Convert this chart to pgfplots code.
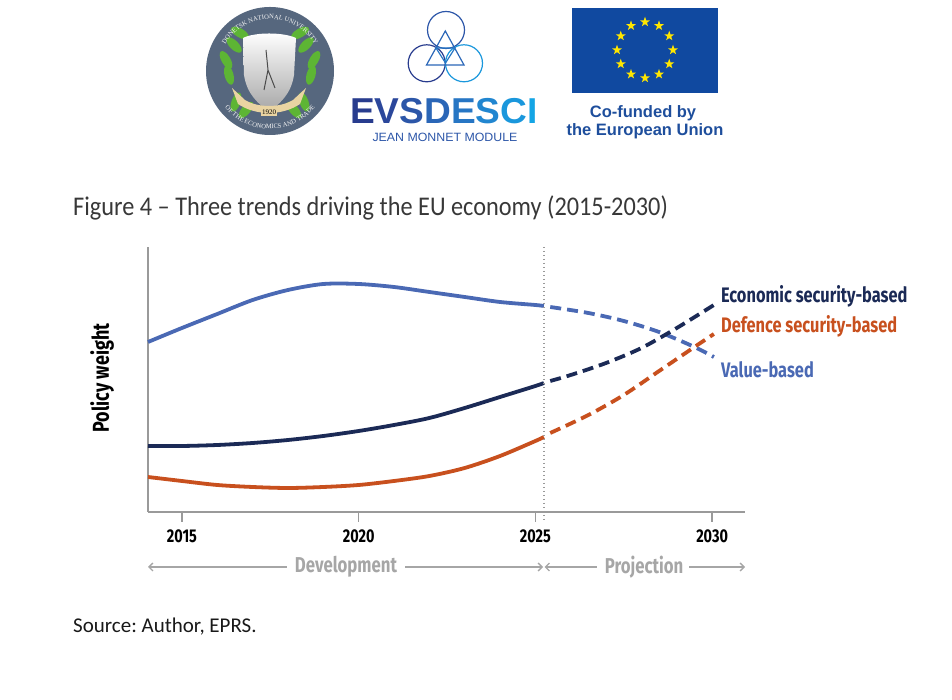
\documentclass[border=0pt]{standalone}
\usepackage{fontspec}
\usepackage{pgfplots}
\pgfplotsset{compat=1.18}
\usetikzlibrary{arrows.meta,shapes.geometric,decorations.text}
\newfontfamily\condb[FakeStretch=0.78]{Fira Sans}
\newfontfamily\titlefont[FakeStretch=0.9]{Carlito}
\newfontfamily\srcfont{Carlito}
\newfontfamily\arialf{Liberation Sans}
\newfontfamily\seriff{Liberation Serif}
\newfontfamily\evsfont[FakeStretch=1.03]{Liberation Sans}
\definecolor{cblue}{HTML}{4A69B4}
\definecolor{cnavy}{HTML}{1B2A56}
\definecolor{corange}{HTML}{C8501E}
\definecolor{cgray}{HTML}{9A9A9A}
\definecolor{lgray}{HTML}{A6A6A6}
\definecolor{eublue}{HTML}{1049A0}
\definecolor{euyellow}{HTML}{FFE600}
\definecolor{cotext}{HTML}{1E4E9C}
\definecolor{logogray}{HTML}{56677E}
\definecolor{leafgreen}{HTML}{5DB534}
\definecolor{ribbon}{HTML}{E9D4A2}
\definecolor{eA}{HTML}{283C8E}
\definecolor{eB}{HTML}{2B479B}
\definecolor{eC}{HTML}{2C56A8}
\definecolor{eD}{HTML}{2A66B7}
\definecolor{eE}{HTML}{2776C4}
\definecolor{eF}{HTML}{2186D0}
\definecolor{eG}{HTML}{1A97DC}
\definecolor{eH}{HTML}{14A5E5}
\begin{document}
\frenchspacing
\begin{tikzpicture}
\path[use as bounding box] (0,0) rectangle (952pt,700pt);
% ---------- logos ----------
% left university seal
\fill[logogray] (270pt,629pt) circle (64pt);
\foreach \xx/\yy/\rr in {226/640/30, 229/625/15, 234/655/45, 240/667/60, 236/598/-20, 246/590/-40}{
  \fill[leafgreen] (\xx pt,\yy pt) ellipse [x radius=4.5pt, y radius=10pt, rotate=\rr];}
\foreach \xx/\yy/\rr in {314/640/-30, 311/625/-15, 306/655/-45, 300/667/-60, 304/598/20, 294/590/40}{
  \fill[leafgreen] (\xx pt,\yy pt) ellipse [x radius=4.5pt, y radius=10pt, rotate=\rr];}
\shade[top color=white, bottom color=gray!70] (243pt,662pt) .. controls (255pt,668pt) and (283pt,668pt) .. (296pt,662pt) -- (294pt,625pt) .. controls (291pt,605pt) and (279pt,596pt) .. (269pt,588pt) .. controls (259pt,596pt) and (247pt,605pt) .. (244pt,625pt) -- cycle;
\draw[gray!60!black, line width=1pt] (266pt,650pt) -- (268pt,630pt) -- (264pt,610pt) (268pt,630pt) -- (275pt,612pt);
\fill[ribbon] (232pt,612pt) -- (245pt,600pt) .. controls (258pt,592pt) and (280pt,592pt) .. (293pt,600pt) -- (306pt,612pt) -- (300pt,596pt) .. controls (282pt,584pt) and (256pt,584pt) .. (238pt,596pt) -- cycle;
\node[fill=ribbon, inner sep=1.2pt, font=\seriff\fontsize{7}{8}\selectfont] at (269pt,588pt) {1920};
\path[decorate, decoration={text along path, text align=center, text color=white!92!gray,
  text={|\seriff\fontsize{6.6}{7}\selectfont|DONETSK NATIONAL UNIVERSITY}}]
  ([shift={(150:52pt)}]270pt,629pt) arc[start angle=150, end angle=30, radius=52pt];
\path[decorate, decoration={text along path, text align=center, text color=white!92!gray,
  text={|\seriff\fontsize{6.6}{7}\selectfont|OF THE ECONOMICS AND TRADE}}]
  ([shift={(208:58pt)}]270pt,629pt) arc[start angle=208, end angle=332, radius=58pt];
% EVSDESCI rings
\draw[eC, line width=1.2pt] (446pt,670pt) circle (18.5pt);
\draw[eA, line width=1.2pt] (426.7pt,636.7pt) circle (18.5pt);
\draw[eG, line width=1.2pt] (464pt,636.7pt) circle (18.5pt);
\draw[eD, line width=1.2pt] (445.3pt,669pt) -- (426.5pt,635pt) -- (464pt,635pt) -- cycle;
\draw[eE, line width=1.2pt] (436pt,652pt) -- (455pt,652pt) -- (445.5pt,637pt) -- cycle;
\node[anchor=base west, inner sep=0pt] at (350pt,576pt) {\evsfont\bfseries\fontsize{36}{40}\selectfont
  \textcolor{eA}{E}\textcolor{eB}{V}\textcolor{eC}{S}\textcolor{eD}{D}\textcolor{eE}{E}\textcolor{eF}{S}\textcolor{eG}{C}\textcolor{eH}{I}};
\node[inner sep=0pt, text=eC] at (445pt,562.5pt) {\evsfont\fontsize{12}{14}\selectfont JEAN MONNET MODULE};
% EU flag
\fill[eublue] (572pt,607pt) rectangle (718pt,692pt);
\foreach \a in {0,30,...,330}{
  \node[star, star points=5, star point ratio=2.5, fill=euyellow, inner sep=0pt, minimum size=10.5pt] at ([shift={(\a:28pt)}]645pt,650pt) {};}
\node[text=cotext, inner sep=0pt] at (643pt,587pt) {\arialf\bfseries\fontsize{16.5}{18}\selectfont Co-funded by};
\node[text=cotext, inner sep=0pt] at (645pt,569pt) {\arialf\bfseries\fontsize{16.5}{18}\selectfont the European Union};
% ---------- title ----------
\node[anchor=base west, inner sep=0pt, text=black!78] at (73pt,484pt) {\titlefont\fontsize{27}{30}\selectfont Figure 4 – Three trends driving the EU economy (2015-2030)};
% ---------- chart ----------
\begin{axis}[at={(148pt,188pt)}, anchor=south west, scale only axis,
  width=597pt, height=265pt,
  xmin=2014.04, xmax=2030.93, ymin=0, ymax=265,
  axis x line=bottom, axis y line=left,
  axis line style={-, cgray, line width=1.4pt},
  xtick={2015,2020,2025,2030}, xticklabels={2015,2020,2025,2030},
  ytick=\empty, tick align=outside, major tick length=10pt,
  tick style={cgray, line width=1.4pt},
  xticklabel style={font=\condb\bfseries\fontsize{18.5}{19}\selectfont, text=black, inner sep=0pt, anchor=north, yshift=-8pt},
  ylabel={Policy weight},
  ylabel style={at={(axis description cs:-0.077,0.506)}, anchor=center, font=\condb\bfseries\fontsize{23}{25}\selectfont, text=black},
  clip=false]
% solid (development)
\addplot[cblue, line width=3.8pt, smooth] coordinates {
 (2014.04,170) (2015,184) (2016,198) (2017,212) (2018,222) (2019,228) (2020,228)
 (2021,225) (2022,220) (2023,215) (2024,210) (2025,207) (2025.24,206)};
\addplot[cnavy, line width=3.8pt, smooth] coordinates {
 (2014.04,66) (2015,66) (2016,67) (2017,69) (2018,72) (2019,76) (2020,81)
 (2021,87) (2022,94) (2023,104) (2024,115) (2025,126) (2025.24,129)};
\addplot[corange, line width=3.8pt, smooth] coordinates {
 (2014.04,35) (2015,31) (2016,27) (2017,25) (2018,24) (2019,25) (2020,27)
 (2021,31) (2022,36) (2023,44) (2024,56) (2025,71) (2025.24,75)};
% dashed (projection)
\addplot[cblue, line width=3.8pt, smooth, dash pattern=on 11pt off 6pt] coordinates {
 (2025.42,205) (2026.5,199) (2027.5,191) (2028.5,180) (2029.5,165) (2030.05,155)};
\addplot[cnavy, line width=3.8pt, smooth, dash pattern=on 11pt off 6pt] coordinates {
 (2025.42,131) (2026,137) (2027,149) (2028,164) (2029,184) (2030.05,207)};
\addplot[corange, line width=3.8pt, smooth, dash pattern=on 11pt off 6pt] coordinates {
 (2025.42,79) (2026.5,97) (2027.5,117) (2028.5,141) (2029.5,165) (2030.05,178)};
% separator
\draw[cgray, line width=1.3pt, dash pattern=on 1.5pt off 2.5pt] (axis cs:2025.24,265) -- ([yshift=-10pt]axis cs:2025.24,0);
% series labels
\node[anchor=west, inner sep=0pt, text=cnavy, font=\condb\bfseries\fontsize{21}{23}\selectfont] at (axis cs:2030.25,216) {Economic security-based};
\node[anchor=west, inner sep=0pt, text=corange, font=\condb\bfseries\fontsize{21}{23}\selectfont] at (axis cs:2030.25,186) {Defence security-based};
\node[anchor=west, inner sep=0pt, text=cblue, font=\condb\bfseries\fontsize{21}{23}\selectfont] at (axis cs:2030.25,142) {Value-based};
\end{axis}
% ---------- period arrows ----------
\draw[lgray, line width=1.3pt, {Straight Barb[length=4pt,width=8pt]}-] (148pt,133pt) -- (287pt,133pt);
\draw[lgray, line width=1.3pt, -{Straight Barb[length=4pt,width=8pt]}] (405pt,133pt) -- (543pt,133pt);
\draw[lgray, line width=1.3pt, {Straight Barb[length=4pt,width=8pt]}-] (544.5pt,133pt) -- (597pt,133pt);
\draw[lgray, line width=1.3pt, -{Straight Barb[length=4pt,width=8pt]}] (689pt,133pt) -- (745pt,133pt);
\node[text=lgray, inner sep=0pt, font=\condb\bfseries\fontsize{21.5}{24}\selectfont] at (346pt,133pt) {Development};
\node[text=lgray, inner sep=0pt, font=\condb\bfseries\fontsize{21.5}{24}\selectfont] at (644pt,133pt) {Projection};
% ---------- source ----------
\node[anchor=base west, inner sep=0pt, text=black!90] at (73pt,67pt) {\srcfont\fontsize{21}{24}\selectfont Source: Author, EPRS.};
\end{tikzpicture}
\end{document}
